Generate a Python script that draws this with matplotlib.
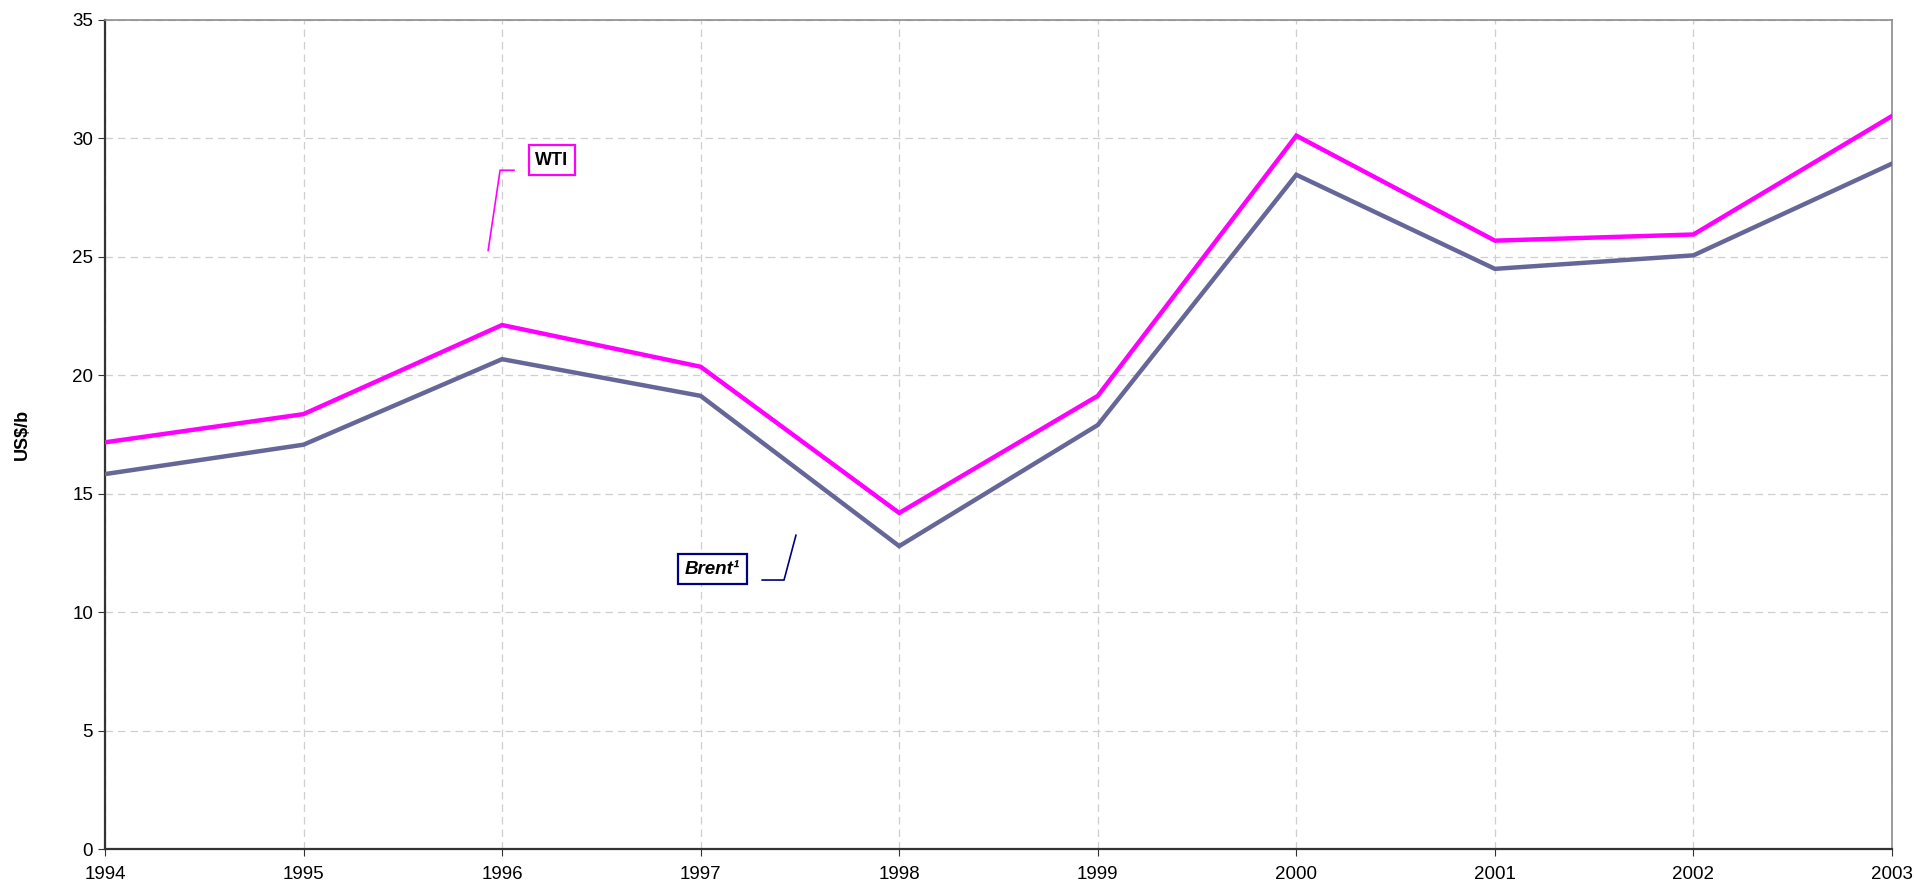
import matplotlib
matplotlib.use("Agg")
import matplotlib.pyplot as plt

years = [1994, 1995, 1996, 1997, 1998, 1999, 2000, 2001, 2002, 2003]
wti = [17.16, 18.35, 22.11, 20.35, 14.18, 19.12, 30.1, 25.67, 25.93, 30.93]
brent = [15.82, 17.06, 20.67, 19.12, 12.78, 17.89, 28.45, 24.48, 25.05, 28.92]
yticks = [0, 5, 10, 15, 20, 25, 30, 35]

plt.rcParams['font.family'] = ['Liberation Sans', 'DejaVu Sans']

fig = plt.figure(figsize=(19.15, 8.88), dpi=100)
ax = fig.add_axes([0.0548, 0.0439, 0.9332, 0.9341])

ax.plot(years, wti, color='#FF00FF', lw=3.2, solid_joinstyle='miter', zorder=3)
ax.plot(years, brent, color='#666699', lw=3.2, solid_joinstyle='miter', zorder=3)

ax.set_xlim(1994, 2003)
ax.set_ylim(0, 35)
ax.set_xticks(years)
ax.set_xticklabels([str(y) for y in years])
ax.set_yticks(yticks)
ax.tick_params(axis='both', labelsize=13.5, direction='out', length=5, color='#333333')
ax.tick_params(axis='x', pad=7)
ax.grid(True, color='#CFCFCF', linestyle=(0, (6, 4)), lw=0.9, zorder=0)

for s in ['left', 'bottom']:
    ax.spines[s].set_color('#333333')
    ax.spines[s].set_linewidth(1.6)
for s in ['top', 'right']:
    ax.spines[s].set_color('#8C8C8C')
    ax.spines[s].set_linewidth(1.2)

ax.set_ylabel('US$/b', fontsize=13, fontweight='bold', labelpad=30)

# WTI label and leader
ax.plot([1995.93, 1995.99, 1996.06], [25.26, 28.64, 28.64], color='#FF00FF', lw=1.2, zorder=4)
ax.text(1996.25, 29.06, 'WTI', fontsize=13, fontweight='bold', ha='center', va='center',
        bbox=dict(boxstyle='square,pad=0.35', fc='white', ec='#FF00FF', lw=1.6), zorder=5)

# Brent label and leader
ax.plot([1997.31, 1997.42, 1997.48], [11.35, 11.35, 13.24], color='#000080', lw=1.2, zorder=4)
ax.text(1997.06, 11.81, 'Brent\u00b9', fontsize=13.5, fontweight='bold', style='italic',
        ha='center', va='center',
        bbox=dict(boxstyle='square,pad=0.35', fc='white', ec='#000080', lw=1.6), zorder=5)

fig.savefig('out.png', dpi=100)
